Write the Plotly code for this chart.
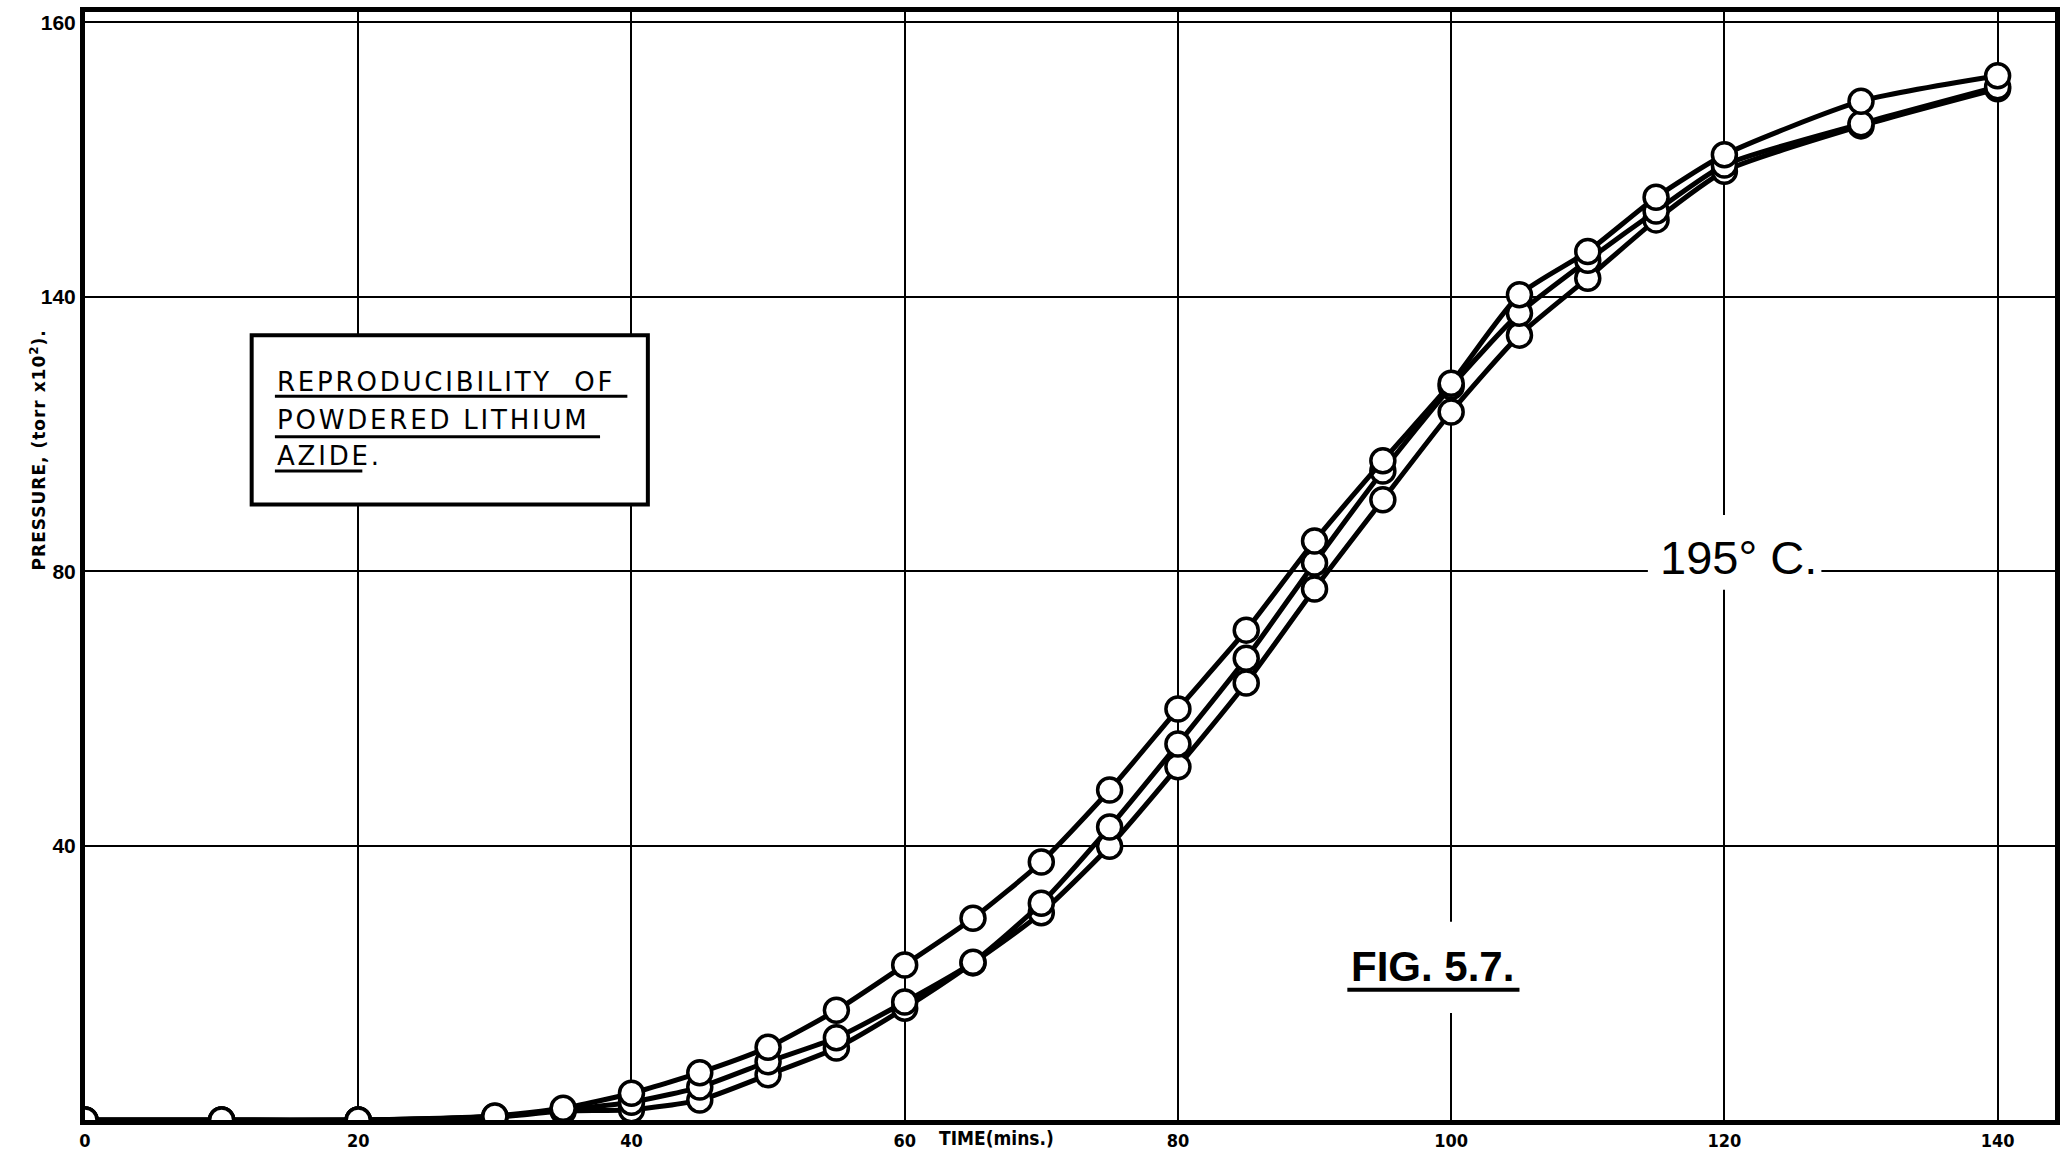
import plotly.graph_objects as go

# Pressure build-up of powdered lithium azide at 195 °C, three repeat runs
time_min = [0, 10, 20, 30, 35, 40, 45, 50, 55, 60, 65, 70, 75, 80, 85, 90,
            95, 100, 105, 110, 115, 120, 130, 140]
run_a = [0, 0, 0, 0.6, 1.7, 3.9, 6.9, 10.6, 16.0, 22.6, 29.4, 37.6, 48.1,
         59.9, 71.4, 84.4, 96.1, 107.4, 120.3, 126.6, 134.5, 140.7, 148.5, 152.2]
run_b = [0, 0, 0, 0.5, 1.5, 2.6, 4.8, 8.5, 12.0, 17.2, 23.0, 31.6, 42.7,
         54.8, 67.3, 81.2, 94.6, 106.9, 117.6, 125.3, 132.5, 139.2, 145.2, 150.6]
run_c = [0, 0, 0, 0.4, 1.3, 1.5, 2.9, 6.6, 10.5, 16.3, 22.9, 30.2, 39.9,
         51.5, 63.7, 77.4, 90.4, 103.2, 114.4, 122.7, 131.2, 138.3, 144.9, 150.3]

x_tick_vals = [0, 20, 40, 60, 80, 100, 120, 140]
x_tick_text = ["0", "20", "40", "60", "80", "100", "120", "140"]
y_tick_vals = [40, 80, 120, 160]
y_tick_text = ["40", "80", "140", "160"]

box_lines = ["REPRODUCIBILITY\u00a0\u00a0OF", "POWDERED LITHIUM", "AZIDE."]

INK = "black"
NARROW = "Liberation Sans Narrow, DejaVu Sans Condensed, Arial Narrow, sans-serif"

fig = go.Figure()

for series in (run_c, run_b, run_a):
    fig.add_trace(go.Scatter(
        x=time_min, y=series, mode="lines+markers",
        line=dict(color=INK, width=5, shape="spline", smoothing=0.6),
        marker=dict(symbol="circle", size=24, color="white",
                    line=dict(color=INK, width=3.5)),
        showlegend=False, hoverinfo="skip", cliponaxis=True,
    ))

shapes = []
# title box
shapes.append(dict(type="rect", xref="x", yref="y", x0=12.2, x1=41.2, y0=89.7, y1=114.4,
                   line=dict(color=INK, width=4), fillcolor="white", layer="above"))
# underlines of the title text
for y_u, x_end in ((105.5, 39.7), (99.6, 37.7), (94.6, 20.3)):
    shapes.append(dict(type="line", xref="x", yref="y", x0=13.9, x1=x_end, y0=y_u, y1=y_u,
                       line=dict(color=INK, width=3), layer="above"))
# white gaps behind the free-standing labels
shapes.append(dict(type="rect", xref="x", yref="y", x0=114.4, x1=127.1, y0=77.3, y1=88.2,
                   line=dict(width=0), fillcolor="white", layer="above"))
shapes.append(dict(type="rect", xref="x", yref="y", x0=92.4, x1=105.0, y0=15.6, y1=28.9,
                   line=dict(width=0), fillcolor="white", layer="above"))
shapes.append(dict(type="line", xref="x", yref="y", x0=92.4, x1=105.0, y0=19.0, y1=19.0,
                   line=dict(color=INK, width=4), layer="above"))

annotations = []
for txt, y_c in zip(box_lines, (107.6, 102.1, 96.8)):
    annotations.append(dict(
        x=13.9, y=y_c, xref="x", yref="y", xanchor="left", yanchor="middle",
        text='<span style="letter-spacing:2.8px">' + txt + "</span>",
        showarrow=False, font=dict(family="DejaVu Sans", size=26, color=INK)))

annotations.append(dict(x=121.0, y=82.0, xref="x", yref="y", text="195° C.",
                        showarrow=False, xanchor="center", yanchor="middle",
                        font=dict(family="Liberation Sans, Arial, sans-serif", size=47, color=INK)))
annotations.append(dict(x=98.65, y=22.4, xref="x", yref="y", text="FIG. 5.7.",
                        showarrow=False, xanchor="center", yanchor="middle",
                        font=dict(family="Liberation Sans, Arial, sans-serif", size=42,
                                  color=INK, weight="bold")))
annotations.append(dict(x=62.4, y=0, xref="x", yref="paper", text="TIME(mins.)",
                        showarrow=False, xanchor="left", yanchor="top", yshift=-5,
                        font=dict(family=NARROW, size=19, color=INK, weight="bold")))
annotations.append(dict(x=-0.024, y=0.605, xref="paper", yref="paper",
                        text='<span style="letter-spacing:1px">PRESSURE, (torr x10<sup>2</sup>).</span>',
                        textangle=-90,
                        showarrow=False, xanchor="center", yanchor="middle",
                        font=dict(family="DejaVu Sans", size=17, color=INK, weight="bold")))

fig.update_layout(
    width=2064, height=1151, autosize=False,
    margin=dict(l=85, r=9, t=12, b=31),
    paper_bgcolor="white", plot_bgcolor="white",
    shapes=shapes, annotations=annotations,
    xaxis=dict(range=[0, 144.2], tickvals=x_tick_vals, ticktext=x_tick_text,
               automargin=False,
               showgrid=True, gridcolor=INK, gridwidth=2, zeroline=False,
               showline=True, linecolor=INK, linewidth=5, mirror=True, ticks="",
               tickfont=dict(family=NARROW, size=18, color=INK, weight="bold")),
    yaxis=dict(range=[0, 161.5], tickvals=y_tick_vals, ticktext=y_tick_text,
               automargin=False,
               showgrid=True, gridcolor=INK, gridwidth=2, zeroline=False,
               showline=True, linecolor=INK, linewidth=5, mirror=True, ticks="",
               tickfont=dict(family="Liberation Sans, Arial, sans-serif", size=21,
                             color=INK, weight="bold")),
)

fig.write_html("out.html", config={"displayModeBar": False})
